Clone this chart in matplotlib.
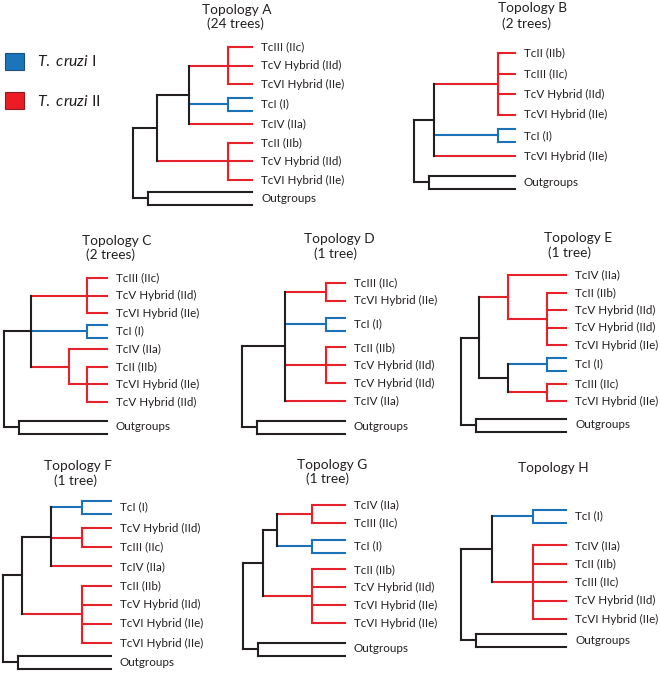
import matplotlib.pyplot as plt
from matplotlib.patches import Rectangle

plt.rcParams['font.family'] = ['Lato', 'DejaVu Sans']
plt.rcParams['mathtext.fontset'] = 'custom'
plt.rcParams['mathtext.it'] = 'Lato:italic'
plt.rcParams['mathtext.rm'] = 'Lato'

# --- data: tree topologies (ingroup only, outgroups are added to every tree)
TCI = "TcI (I)"
OUT = "Outgroups"

topo_a = [[["TcIII (IIc)", "TcV Hybrid (IId)", "TcVI Hybrid (IIe)"], TCI, "TcIV (IIa)"],
          ["TcII (IIb)", "TcV Hybrid (IId)", "TcVI Hybrid (IIe)"]]
topo_b = [["TcII (IIb)", "TcIII (IIc)", "TcV Hybrid (IId)", "TcVI Hybrid (IIe)"],
          TCI, "TcVI Hybrid (IIe)"]
topo_c = [["TcIII (IIc)", "TcV Hybrid (IId)", "TcVI Hybrid (IIe)"], TCI,
          ["TcIV (IIa)", ["TcII (IIb)", "TcVI Hybrid (IIe)", "TcV Hybrid (IId)"]]]
topo_d = [["TcIII (IIc)", "TcVI Hybrid (IIe)"], TCI,
          ["TcII (IIb)", "TcV Hybrid (IId)", "TcV Hybrid (IId)"], "TcIV (IIa)"]
topo_e = [["TcIV (IIa)", ["TcII (IIb)", "TcV Hybrid (IId)", "TcV Hybrid (IId)",
                          "TcVI Hybrid (IIe)"]],
          [TCI, ["TcIII (IIc)", "TcVI Hybrid (IIe)"]]]
topo_f = [[TCI, ["TcV Hybrid (IId)", "TcIII (IIc)"], "TcIV (IIa)"],
          ["TcII (IIb)", "TcV Hybrid (IId)", "TcVI Hybrid (IIe)", "TcVI Hybrid (IIe)"]]
topo_g = [[["TcIV (IIa)", "TcIII (IIc)"], TCI],
          ["TcII (IIb)", "TcV Hybrid (IId)", "TcVI Hybrid (IIe)", "TcVI Hybrid (IIe)"]]
topo_h = [TCI, ["TcIV (IIa)", "TcII (IIb)", "TcIII (IIc)", "TcV Hybrid (IId)",
                "TcVI Hybrid (IIe)"]]

topologies = [topo_a, topo_b, topo_c, topo_d, topo_e, topo_f, topo_g, topo_h]
titles = ["Topology A", "Topology B", "Topology C", "Topology D",
          "Topology E", "Topology F", "Topology G", "Topology H"]
tree_counts = ["(24 trees)", "(2 trees)", "(2 trees)", "(1 tree)",
               "(1 tree)", "(1 tree)", "(1 tree)", ""]
legend_labels = [r"$\mathit{T.\ cruzi}$ I", r"$\mathit{T.\ cruzi}$ II"]

# --- layout (pixels): x of tips and of each node height, leaf y range
panels = [
    dict(levels=[252, 228, 189, 157, 133], y0=47, y1=180, yout=198, pad=0.05,
         title=(237, 10), sub=(235, 24)),
    dict(levels=[515, 498, 434, 414], y0=53, y1=156, yout=182, pad=0.0,
         title=(532, 8), sub=(527, 24)),
    dict(levels=[107, 87, 69, 31, 4], y0=278, y1=402, yout=427, pad=0.0,
         title=(117, 241), sub=(111, 255)),
    dict(levels=[345, 326, 285, 242], y0=283, y1=401, yout=427, pad=0.3,
         title=(339, 239), sub=(336, 254)),
    dict(levels=[566, 547, 508, 479, 461], y0=275, y1=401, yout=425, pad=0.1,
         title=(578, 238), sub=(569, 253)),
    dict(levels=[111, 82, 51, 22, 3], y0=507, y1=643, yout=662, pad=0.1,
         title=(78, 466), sub=(76, 481)),
    dict(levels=[345, 312, 277, 263, 243], y0=505, y1=623, yout=649, pad=0.3,
         title=(332, 465), sub=(327, 479)),
    dict(levels=[566, 533, 492, 461], y0=516, y1=619, yout=640, pad=0.6,
         title=(553, 468), sub=(553, 482)),
]

RED = "#e52229"
BLUE = "#1c72b8"
BLACK = "#231f20"
LW = 1.5
PAIR = 6.5
FS = 8.4


def seg(ax, x0, y0, x1, y1, color):
    ax.plot([x0, x1], [y0, y1], color=color, lw=LW, solid_capstyle='projecting')


def leaves(node):
    if isinstance(node, str):
        return [node]
    out = []
    for c in node:
        out += leaves(c)
    return out


def leaf_positions(tree, lay):
    names = leaves(tree)
    units, u = [], 0.0
    for i, n in enumerate(names):
        if i > 0:
            u += 1
            if n == TCI or names[i - 1] == TCI:
                u += lay['pad']
        units.append(u)
    scale = (lay['y1'] - lay['y0']) / units[-1]
    return iter([lay['y0'] + v * scale for v in units])


def draw_node(ax, node, lay, ys):
    lv = lay['levels']
    tip = lv[0]
    if isinstance(node, str):
        y = next(ys)
        if node == TCI:
            for dy in (-PAIR, PAIR):
                seg(ax, lv[1], y + dy, tip, y + dy, BLUE)
            seg(ax, lv[1], y - PAIR, lv[1], y + PAIR, BLUE)
            ax.text(tip + 9, y, node, fontsize=FS, color=BLACK, va='center')
            return y, 1, BLUE
        ax.text(tip + 9, y, node, fontsize=FS, color=BLACK, va='center')
        return y, 0, RED
    kids = [draw_node(ax, c, lay, ys) for c in node]
    h = 1 + max(k[1] for k in kids)
    x = lv[h]
    y = (kids[0][0] + kids[-1][0]) / 2
    cols = set(k[2] for k in kids)
    color = cols.pop() if len(cols) == 1 else BLACK
    for ky, kh, kc in kids:
        seg(ax, x, ky, lv[kh], ky, kc)
    seg(ax, x, kids[0][0], x, kids[-1][0], color)
    return y, h, color


fig = plt.figure(figsize=(6.6, 6.73), dpi=100)
ax = fig.add_axes([0, 0, 1, 1])
ax.set_xlim(0, 660)
ax.set_ylim(673, 0)
ax.axis('off')

for tree, lay, title, sub in zip(topologies, panels, titles, tree_counts):
    ys = leaf_positions(tree, lay)
    yi, hi, ci = draw_node(ax, tree, lay, ys)
    lv = lay['levels']
    rx = lv[hi + 1]
    ox = rx + 15
    yo = lay['yout']
    # outgroups
    for dy in (-PAIR, PAIR):
        seg(ax, ox, yo + dy, lv[0], yo + dy, BLACK)
    seg(ax, ox, yo - PAIR, ox, yo + PAIR, BLACK)
    ax.text(lv[0] + 9, yo, OUT, fontsize=FS, color=BLACK, va='center')
    # root
    seg(ax, rx, yi, lv[hi], yi, ci)
    seg(ax, rx, yo, ox, yo, BLACK)
    seg(ax, rx, yi, rx, yo, BLACK)
    ax.text(*lay['title'], title, fontsize=9.8, color=BLACK, ha='center', va='center')
    if sub:
        ax.text(*lay['sub'], sub, fontsize=9.8, color=BLACK, ha='center', va='center')

# legend
for (y, fc, ec), lab in zip([(53, "#1b75bb", "#1d4f7a"), (92, "#ec1c24", "#8e1b1f")],
                            legend_labels):
    ax.add_patch(Rectangle((5, y), 19, 17, facecolor=fc, edgecolor=ec, lw=0.8))
    ax.text(37, y + 9, lab, fontsize=11.3, color=BLACK, va='center')

fig.savefig("out.png", dpi=100)
